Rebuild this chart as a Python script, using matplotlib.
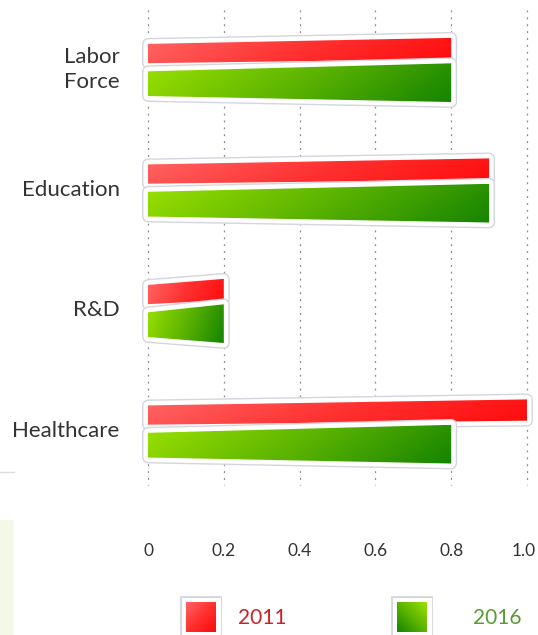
import numpy as np
import matplotlib
matplotlib.use("Agg")
import matplotlib.pyplot as plt
from matplotlib.patches import Polygon, Rectangle
from matplotlib.colors import LinearSegmentedColormap
import matplotlib.patheffects as pe

# data
categories = ["Labor\nForce", "Education", "R&D", "Healthcare"]
values_2011 = [0.8, 0.9, 0.2, 1.0]
values_2016 = [0.8, 0.9, 0.2, 0.8]
xticks = [0, 0.2, 0.4, 0.6, 0.8, 1.0]
xtick_labels = ["0", "0.2", "0.4", "0.6", "0.8", "1.0"]
series = ["2011", "2016"]

plt.rcParams['font.family'] = ['Lato', 'DejaVu Sans']

red_cmap = LinearSegmentedColormap.from_list("r", ["#ff6464", "#ff3030", "#ff0a0a"])
green_cmap = LinearSegmentedColormap.from_list("g", ["#9ae000", "#5cb400", "#168400"])

W, H = 538, 635
fig = plt.figure(figsize=(W / 100, H / 100), dpi=100)

# axes placed in pixel terms: x=0 at 148px, x=1 at 527px
px_unit = 527 - 148
ax_left, ax_right = 130, 538
ax_top, ax_bot = 0, 490
ax = fig.add_axes([ax_left / W, 1 - ax_bot / H, (ax_right - ax_left) / W, (ax_bot - ax_top) / H])
grp_px, first_px = 120.5, 68
xlim = ((ax_left - 148) / px_unit, (ax_right - 148) / px_unit)
ylim = ((ax_bot - first_px) / grp_px, (ax_top - first_px) / grp_px)
for s in ax.spines.values():
    s.set_visible(False)
ax.set_yticks([])
ax.set_xticks([])

# dotted grid
ax.vlines(xticks, (10 - first_px) / grp_px, (485 - first_px) / grp_px,
          colors="#8a8a8a", linestyles=(0, (1.5, 4)), linewidth=0.9, zorder=0)

stroke = [pe.Stroke(linewidth=8.5, foreground="#d4d5de"),
          pe.Stroke(linewidth=6.5, foreground="white"), pe.Normal()]


def draw_bar(y, h, w, cmap, top_up, bot_down, z):
    # top_up / bot_down: pixel shift of the right end (slight perspective)
    tu, bd = top_up / grp_px, bot_down / grp_px
    pts = [(0, y - h / 2), (w, y - h / 2 - tu), (w, y + h / 2 + bd), (0, y + h / 2)]
    border = Polygon(pts, closed=True, facecolor="white", edgecolor="white",
                     linewidth=1, joinstyle="round", zorder=z)
    border.set_path_effects(stroke)
    ax.add_patch(border)
    gx = np.linspace(0, 1, 200)
    gy = np.linspace(0, 1, 20)
    grad = gx[None, :] * 0.85 + gy[:, None] * 0.15
    ymin = y - h / 2 - abs(tu)
    ymax = y + h / 2 + abs(bd)
    im = ax.imshow(grad, cmap=cmap, extent=(0, w, ymax, ymin), aspect="auto",
                   origin="upper", zorder=z + 0.5, interpolation="bilinear")
    im.set_clip_path(Polygon(pts, closed=True, transform=ax.transData))


for i, (v1, v2) in enumerate(zip(values_2011, values_2016)):
    draw_bar(i - 0.12, 0.16, v1, red_cmap, 6, -4, 2 + i * 2)
    draw_bar(i + 0.13, 0.205, v2, green_cmap, 8, 6, 3 + i * 2)
    ax.text(-0.075, i + 0.01, categories[i], ha="right", va="center",
            fontsize=16, color="#333333", linespacing=1.3)

ax.set_aspect("auto")
ax.set_xlim(*xlim)
ax.set_ylim(*ylim)

# tick labels (last one kept inside the picture)
for t, lab in zip(xticks, xtick_labels):
    px = min(148 + t * px_unit, 524)
    fig.text(px / W, 1 - 551 / H, lab, ha="center", va="center",
             fontsize=12.5, color="#333333")

# faint slide background bits on the left
fig.patches.append(Rectangle((0, 0), 14 / W, 115 / H, transform=fig.transFigure,
                             facecolor="#f4f8e6", edgecolor="none", zorder=-1))
fig.lines.append(plt.Line2D([0, 14 / W], [1 - 472 / H, 1 - 472 / H],
                            transform=fig.transFigure, color="#dddddd", linewidth=1))

# legend
leg_ax = fig.add_axes([0, 0, 1, 1], facecolor="none")
leg_ax.axis("off")
leg_items = [(186, 262, red_cmap, "#cf2029", False), (397, 497, green_cmap, "#5b9a35", True)]
for (sx, tx, cmap, tc, flip), lab in zip(leg_items, series):
    sq = [(sx, 602), (sx + 30, 602), (sx + 30, 632), (sx, 632)]
    b = Polygon(sq, closed=True, facecolor="white", edgecolor="white", zorder=1)
    b.set_path_effects(stroke)
    leg_ax.add_patch(b)
    g = np.linspace(0, 1, 50)
    gx = g[::-1] if flip else g
    grad = gx[None, :] * 0.5 + g[:, None] * 0.5
    leg_ax.imshow(grad, cmap=cmap, extent=(sx, sx + 30, 632, 602), aspect="auto",
                  origin="upper", zorder=2)
    leg_ax.text(tx, 618, lab, ha="center", va="center", fontsize=15, color=tc)
leg_ax.set_xlim(0, W)
leg_ax.set_ylim(H, 0)

fig.savefig("out.png", dpi=100, facecolor="white")
